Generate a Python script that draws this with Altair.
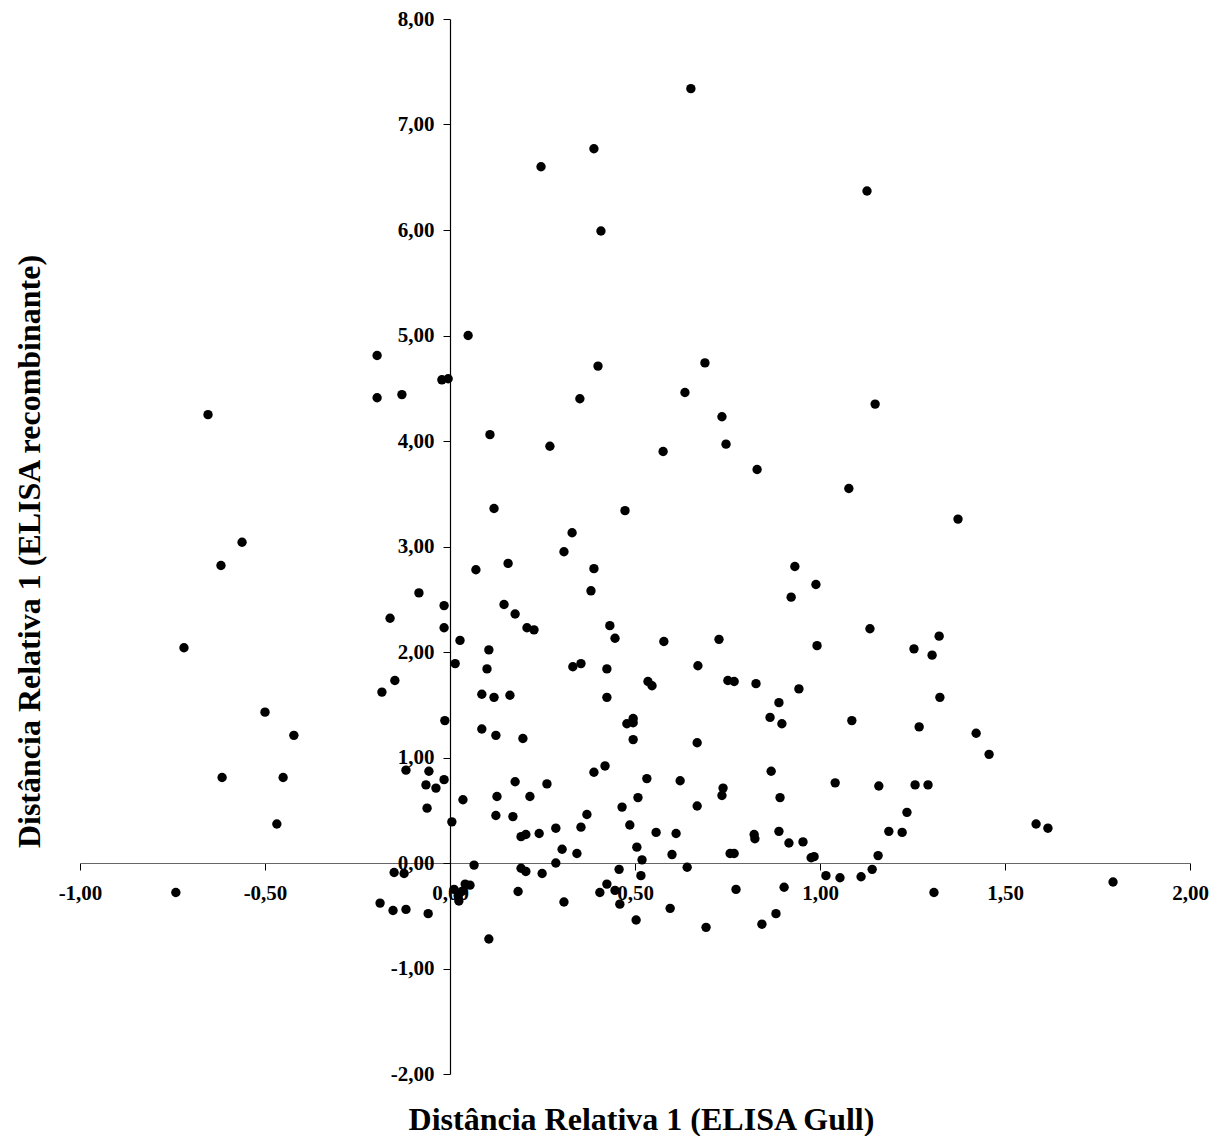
import altair as alt
import pandas as pd

x_vals = [
    0.651, 0.389, 0.246, 1.127, 0.408, 0.049, -0.197, -0.197, -0.130, -0.022,
    -0.005, 0.400, 0.351, 0.108, 0.270, 0.119, 0.330, 0.308, 0.689, 0.635,
    0.735, 0.746, 0.576, 0.830, 1.149, 1.078, 1.373, 0.473, -0.654, -0.562,
    -0.619, -0.719, -0.500, -0.422, -0.616, -0.451, -0.468, -0.741,
    0.070, 0.157, 0.389, 0.381, -0.084, -0.016, -0.162, 0.146, 0.176, 0.208,
    0.227, 0.432, 0.446, -0.016, 0.027, 0.105, 0.014, 0.100, 0.332, 0.354,
    0.424, -0.149, -0.184, 0.086, 0.119, 0.162, 0.424, -0.014, 0.086, 0.124,
    0.197, 0.478, 0.495, 0.495, 0.495, -0.119, -0.057, -0.016, -0.065, -0.038,
    0.176, 0.262, 0.389, 0.419,
    0.932, 0.989, 0.922, 1.135, 1.322, 1.254, 1.303, 0.578, 0.727, 0.992,
    0.670, 0.535, 0.546, 0.751, 0.768, 0.827, 0.943, 1.324, 0.889, 0.865,
    0.897, 1.086, 1.268, 1.422, 0.668, 0.868, 0.532, 0.622, 0.738, 1.041,
    1.159, 1.257, 1.292,
    1.457, 1.584, 1.616, 1.792,
    0.127, 0.216, 0.035, -0.062, 0.005, 0.124, 0.170, 0.465, 0.508, 0.370,
    0.354, 0.286, 0.241, 0.192, 0.205, 0.486, 0.557, 0.303, 0.343, 0.505,
    0.519, 0.286, 0.065, 0.192, 0.205, 0.249, 0.457, 0.516, -0.151, -0.124,
    0.011, 0.032, 0.022, 0.024, 0.041, 0.054, 0.184, 0.308, 0.405, 0.424,
    0.446, 0.459, 0.503, -0.189, -0.154, -0.119, -0.059, 0.105,
    0.735, 0.892, 0.668, 1.235, 0.611, 0.822, 0.824, 0.889, 0.916, 0.954,
    1.186, 1.222, 0.600, 0.757, 0.768, 0.976, 0.984, 1.157, 0.641, 1.016,
    1.054, 1.111, 1.141, 0.773, 0.903, 1.308, 0.595, 0.692, 0.843, 0.881,
]

y_vals = [
    7.34, 6.77, 6.60, 6.37, 5.99, 5.00, 4.81, 4.41, 4.44, 4.58,
    4.59, 4.71, 4.40, 4.06, 3.95, 3.36, 3.13, 2.95, 4.74, 4.46,
    4.23, 3.97, 3.90, 3.73, 4.35, 3.55, 3.26, 3.34, 4.25, 3.04,
    2.82, 2.04, 1.43, 1.21, 0.81, 0.81, 0.37, -0.28,
    2.78, 2.84, 2.79, 2.58, 2.56, 2.44, 2.32, 2.45, 2.36, 2.23,
    2.21, 2.25, 2.13, 2.23, 2.11, 2.02, 1.89, 1.84, 1.86, 1.89,
    1.84, 1.73, 1.62, 1.60, 1.57, 1.59, 1.57, 1.35, 1.27, 1.21,
    1.18, 1.32, 1.37, 1.33, 1.17, 0.88, 0.87, 0.79, 0.74, 0.71,
    0.77, 0.75, 0.86, 0.92,
    2.81, 2.64, 2.52, 2.22, 2.15, 2.03, 1.97, 2.10, 2.12, 2.06,
    1.87, 1.72, 1.68, 1.73, 1.72, 1.70, 1.65, 1.57, 1.52, 1.38,
    1.32, 1.35, 1.29, 1.23, 1.14, 0.87, 0.80, 0.78, 0.71, 0.76,
    0.73, 0.74, 0.74,
    1.03, 0.37, 0.33, -0.18,
    0.63, 0.63, 0.60, 0.52, 0.39, 0.45, 0.44, 0.53, 0.62, 0.46,
    0.34, 0.33, 0.28, 0.25, 0.27, 0.36, 0.29, 0.13, 0.09, 0.15,
    0.03, 0.00, -0.02, -0.05, -0.08, -0.10, -0.06, -0.12, -0.09, -0.10,
    -0.25, -0.27, -0.31, -0.36, -0.20, -0.21, -0.27, -0.37, -0.28, -0.20,
    -0.26, -0.39, -0.54, -0.38, -0.45, -0.44, -0.48, -0.72,
    0.64, 0.62, 0.54, 0.48, 0.28, 0.27, 0.23, 0.30, 0.19, 0.20,
    0.30, 0.29, 0.08, 0.09, 0.09, 0.05, 0.06, 0.07, -0.04, -0.12,
    -0.14, -0.13, -0.06, -0.25, -0.23, -0.28, -0.43, -0.61, -0.58, -0.48,
]

x_ticks = [-1.0, -0.5, 0.0, 0.5, 1.0, 1.5, 2.0]
y_ticks = [-2, -1, 0, 1, 2, 3, 4, 5, 6, 7, 8]
x_title = "Distância Relativa 1 (ELISA Gull)"
y_title = "Distância Relativa 1 (ELISA recombinante)"

df = pd.DataFrame({"x": x_vals, "y": y_vals})

W, H = 1110, 1055
FONT = "Liberation Serif"
label_expr = "(datum.value < 0 ? '-' : '') + replace(format(abs(datum.value), '.2f'), '.', ',')"

x_axis = alt.Axis(
    values=x_ticks, labelExpr=label_expr, offset=-H * 0.2, grid=False,
    tickSize=7, tickColor="#000", domainColor="#666", domainWidth=1.2,
    labelFont=FONT, labelFontSize=21, labelFontWeight="bold", labelColor="#000",
    labelPadding=12, labelFlush=False, labelOverlap=False, labelBound=False,
    title=x_title, titleFont=FONT, titleFontSize=32, titleFontWeight="bold",
    titleColor="#000", titleX=561, titleY=266, titleAlign="center",
    titleBaseline="alphabetic",
)
y_axis = alt.Axis(
    values=y_ticks, labelExpr=label_expr, offset=-W / 3, grid=False,
    tickSize=7, tickColor="#000", domainColor="#000", domainWidth=1.2,
    labelFont=FONT, labelFontSize=21, labelFontWeight="bold", labelColor="#000",
    labelPadding=9, labelFlush=False, labelOverlap=False, labelBound=False,
    title=y_title, titleFont=FONT, titleFontSize=32, titleFontWeight="bold",
    titleColor="#000", titleX=-411, titleY=532, titleAngle=-90,
    titleAlign="center", titleBaseline="alphabetic",
)

chart = (
    alt.Chart(df)
    .mark_circle(size=88, color="#000", opacity=1)
    .encode(
        x=alt.X("x:Q", scale=alt.Scale(domain=[-1, 2], nice=False, zero=False), axis=x_axis),
        y=alt.Y("y:Q", scale=alt.Scale(domain=[-2, 8], nice=False, zero=False), axis=y_axis),
    )
    .properties(
        width=W, height=H,
        background="white",
        autosize=alt.AutoSizeParams(type="none"),
        padding={"left": 72, "top": 11, "right": 20, "bottom": 62},
    )
    .configure_view(strokeWidth=0, stroke="transparent")
)

chart.save("out.html", embed_options={"renderer": "svg", "actions": False})
